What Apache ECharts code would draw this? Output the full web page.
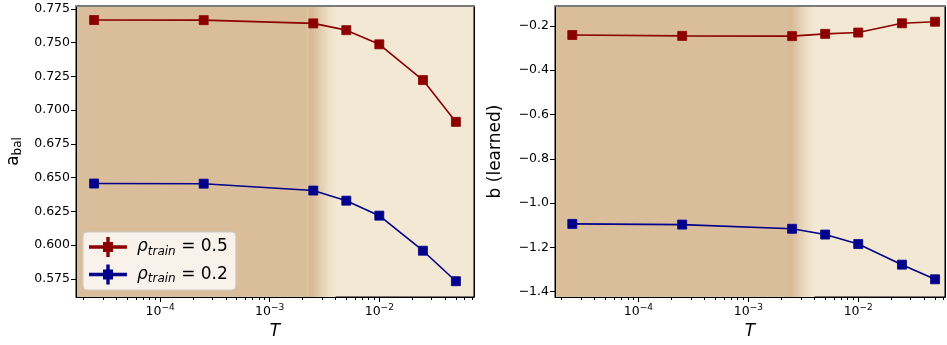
<!DOCTYPE html>
<html>
<head>
<meta charset="utf-8">
<script src="https://cdn.jsdelivr.net/npm/echarts@6/dist/echarts.min.js"></script>
<style>
html,body{margin:0;padding:0;background:#fff;}
#c{width:947px;height:345px;}
</style>
</head>
<body>
<div id="c"></div>
<script>
// ---- data ----
const T = [2.5e-5, 2.5e-4, 2.5e-3, 5e-3, 1e-2, 2.5e-2, 5e-2];
const abal_rho05 = [0.7668, 0.7667, 0.7643, 0.7593, 0.7488, 0.7223, 0.6913];
const abal_rho02 = [0.6456, 0.6455, 0.6404, 0.6329, 0.6218, 0.5958, 0.5732];
const b_rho05 = [-0.241, -0.245, -0.246, -0.236, -0.230, -0.188, -0.181];
const b_rho02 = [-1.094, -1.097, -1.116, -1.142, -1.185, -1.278, -1.344];
const seriesLabels = { r05: '0.5', r02: '0.2' };
const xMajorTicks = [1e-4, 1e-3, 1e-2];
const yTicksLeft = [0.575, 0.600, 0.625, 0.650, 0.675, 0.700, 0.725, 0.750, 0.775];
const yTicksRight = [-1.4, -1.2, -1.0, -0.8, -0.6, -0.4, -0.2];

// ---- style / layout ----
const RED = '#8b0000', BLUE = '#00008b';
const DARK = '#dabd9b', LIGHT = '#f3e8d3';
const FONT = 'DejaVu Sans';
const xRangeL = [1.71e-5, 0.0731];
const xRangeR = [1.74e-5, 0.0616];
const yRangeL = [0.5615, 0.7772];
const yRangeR = [-1.424, -0.110];
const bgDarkEnd = 2.2e-3, bgLightStart = 4.0e-3;

function minorTicks(range) {
  const out = [];
  for (let e = -6; e <= 0; e++) {
    for (let m = 2; m <= 9; m++) {
      const v = m * Math.pow(10, e);
      if (v >= range[0] && v <= range[1]) out.push(v);
    }
  }
  return out;
}
const pairs = arr => T.map((t, i) => [t, arr[i]]);

function xAxes(gi, range) {
  return [
    {
      gridIndex: gi, type: 'log', min: range[0], max: range[1], position: 'bottom', z: 10,
      axisLine: { show: true, lineStyle: { color: '#000', width: 1 } },
      axisTick: { show: true, length: 5, customValues: xMajorTicks, lineStyle: { color: '#000' } },
      axisLabel: {
        show: true, customValues: xMajorTicks, margin: 6, color: '#000',
        formatter: v => '{b|10}{e|\u2212' + Math.round(-Math.log10(v)) + '}',
        rich: {
          b: { fontFamily: FONT, fontSize: 12.5, color: '#000' },
          e: { fontFamily: FONT, fontSize: 9, color: '#000', padding: [0, 0, 8, 0] }
        }
      },
      splitLine: { show: false },
      name: 'T', nameLocation: 'middle', nameGap: 26,
      nameTextStyle: { fontFamily: FONT, fontSize: 17, fontStyle: 'italic', color: '#000' }
    },
    {
      gridIndex: gi, type: 'log', min: range[0], max: range[1], position: 'bottom', z: 10,
      axisLine: { show: false },
      axisTick: { show: true, length: 3, customValues: minorTicks(range), lineStyle: { color: '#000' } },
      axisLabel: { show: false },
      splitLine: { show: false }
    },
    {
      gridIndex: gi, type: 'log', min: range[0], max: range[1], position: 'top', z: 10,
      axisLine: { show: true, lineStyle: { color: '#7a7a7a', width: 2 } },
      axisTick: { show: false }, axisLabel: { show: false }, splitLine: { show: false }
    }
  ];
}

function yAxes(gi, range, ticks, fmt, name, nameGap, nameRich) {
  return [
    {
      gridIndex: gi, type: 'value', min: range[0], max: range[1], position: 'left', z: 10,
      axisLine: { show: true, lineStyle: { color: '#000' } },
      axisTick: { show: true, length: 5, customValues: ticks, lineStyle: { color: '#000' } },
      axisLabel: { show: true, customValues: ticks, formatter: fmt, fontFamily: FONT, fontSize: 12.5, color: '#000', margin: 6 },
      splitLine: { show: false },
      name: name, nameLocation: 'middle', nameGap: nameGap, nameRotate: 90,
      nameTextStyle: Object.assign({ fontFamily: FONT, fontSize: 17, color: '#000' }, nameRich ? { rich: nameRich } : {})
    },
    {
      gridIndex: gi, type: 'value', min: range[0], max: range[1], position: 'right', z: 10,
      axisLine: { show: true, onZero: false, lineStyle: { color: '#000' } },
      axisTick: { show: false }, axisLabel: { show: false }, splitLine: { show: false }
    }
  ];
}

function bgMarkArea() {
  return {
    silent: true,
    data: [
      [{ xAxis: 1e-6, itemStyle: { color: DARK } }, { xAxis: bgDarkEnd }],
      [{ xAxis: bgDarkEnd, itemStyle: { color: {
        type: 'linear', x: 0, y: 0, x2: 1, y2: 0,
        colorStops: [
          { offset: 0, color: DARK },
          { offset: 0.18, color: '#d8ba97' },
          { offset: 0.45, color: '#e3cdae' },
          { offset: 0.75, color: '#eedfc6' },
          { offset: 1, color: LIGHT }
        ] } } }, { xAxis: bgLightStart }]
    ]
  };
}

function lineSeries(name, xi, yi, arr, color, withBg) {
  const s = {
    name: name, type: 'line', xAxisIndex: xi, yAxisIndex: yi,
    data: pairs(arr), symbol: 'rect', symbolSize: 9,
    lineStyle: { color: color, width: 1.6 },
    itemStyle: { color: color, borderColor: color, borderWidth: 0.8, opacity: 1 },
    emphasis: { disabled: true }, animation: false, z: 3
  };
  if (withBg) s.markArea = bgMarkArea();
  return s;
}

const fmtLeft = v => v.toFixed(3);
const fmtRight = v => (v < 0 ? '\u2212' : '') + Math.abs(v).toFixed(1);

const legendIcon = 'path://M0 8.3L36 8.3L36 9.7L0 9.7Z M14 5L22 5L22 13L14 13Z M17.3 0L18.7 0L18.7 18L17.3 18Z';

const option = {
  animation: false,
  backgroundColor: '#ffffff',
  textStyle: { fontFamily: FONT },
  grid: [
    { left: 76, top: 6, width: 398, height: 291, show: true, backgroundColor: LIGHT, borderColor: '#000', borderWidth: 1, containLabel: false },
    { left: 555, top: 6, width: 390, height: 291, show: true, backgroundColor: LIGHT, borderColor: '#000', borderWidth: 1, containLabel: false }
  ],
  xAxis: xAxes(0, xRangeL).concat(xAxes(1, xRangeR)),
  yAxis: yAxes(0, yRangeL, yTicksLeft, fmtLeft, '{a|a}{s|bal}', 52, {
      a: { fontFamily: FONT, fontSize: 17, color: '#000' },
      s: { fontFamily: FONT, fontSize: 12, color: '#000', padding: [8, 0, 0, 0] }
    }).concat(yAxes(1, yRangeR, yTicksRight, fmtRight, 'b (learned)', 51, null)),
  legend: {
    left: 83, top: 232, orient: 'vertical',
    data: ['r05', 'r02'],
    icon: legendIcon, symbolKeepAspect: false,
    itemWidth: 36, itemHeight: 18, itemGap: 7,
    backgroundColor: 'rgba(255,255,255,0.8)', borderColor: '#cccccc', borderWidth: 1, borderRadius: 4,
    padding: [5, 8, 5, 6],
    selectedMode: false,
    formatter: n => '{r|\u03c1}{s|train}{n| = ' + seriesLabels[n] + '}',
    textStyle: {
      color: '#000',
      rich: {
        r: { fontFamily: FONT, fontSize: 17, fontStyle: 'italic', color: '#000', padding: [0, 0, 0, 6] },
        s: { fontFamily: FONT, fontSize: 12, fontStyle: 'italic', color: '#000', padding: [9, 0, 0, 0] },
        n: { fontFamily: FONT, fontSize: 17, color: '#000' }
      }
    }
  },
  series: [
    lineSeries('r05', 0, 0, abal_rho05, RED, true),
    lineSeries('r02', 0, 0, abal_rho02, BLUE, false),
    lineSeries('b05', 3, 2, b_rho05, RED, true),
    lineSeries('b02', 3, 2, b_rho02, BLUE, false)
  ]
};

const chart = echarts.init(document.getElementById('c'), null, { renderer: 'canvas' });
chart.setOption(option);
</script>
</body>
</html>
